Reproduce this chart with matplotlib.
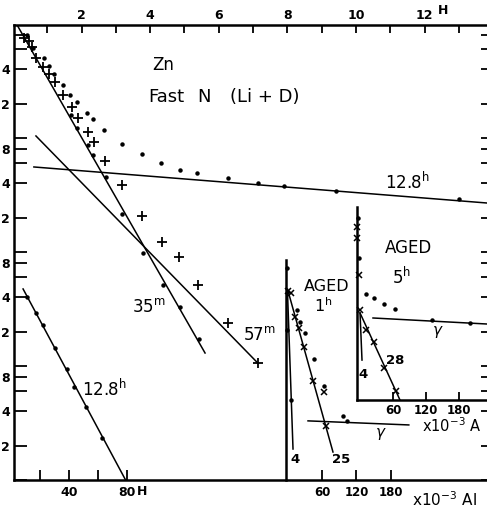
import matplotlib
matplotlib.use('Agg')
import matplotlib.pyplot as plt
from matplotlib.ticker import FixedLocator, NullLocator

# --- Zn, fast neutrons (Li + D): decay, upper time scale in hours ---
t_total = [0.41, 0.58, 0.90, 1.05, 1.20, 1.46, 1.66, 1.87, 2.16, 2.33, 2.65,
           3.18, 3.76, 4.31, 4.87, 5.36, 6.27, 7.14, 7.90, 9.42, 13.0]
a_total = [8010, 6160, 5030, 4280, 3640, 2920, 2380, 2070, 1660, 1470, 1175,
           885, 724, 604, 524, 493, 445, 403, 379, 343, 292]

t_plus = [0.32, 0.47, 0.55, 0.67, 0.87, 1.05, 1.22, 1.46, 1.72, 1.90, 2.19,
          2.36, 2.68, 3.18, 3.76, 4.34, 4.84, 5.39, 6.27, 7.14]
a_plus = [7540, 7100, 6280, 5030, 4200, 3640, 3100, 2380, 1870, 1500, 1130,
          923, 629, 387, 207, 122, 90, 51, 23.8, 10.6]

t_diff = [1.69, 1.87, 2.19, 2.33, 2.71, 3.18, 3.79, 4.37, 4.87, 5.42]
a_diff = [1590, 1224, 868, 709, 455, 215, 98, 51, 33, 17.3]

# fitted straight lines (end points)
fit_128_t = [0.61, 13.82]
fit_128_a = [557, 269]
fit_35_t = [0.12, 5.60]
fit_35_a = [9800, 13.0]
fit_57_t = [0.67, 7.14]
fit_57_a = [1042, 10.6]

# long tail, lower time scale (H)
t_low = [10.9, 17.2, 22.1, 30.5, 38.8, 43.7, 52.1, 63.2]
a_low = [40.3, 29.2, 22.9, 14.4, 9.4, 6.5, 4.37, 2.33]
fit_low_t = [8.2, 79.3]
fit_low_a = [47.4, 1.0]

# --- absorption, aged 1 h (x10^-3 Al) ---
d1_x = [0.9, 6.1, 13.0, 20.0, 28.7, 44.3, 67.0, 63.5]
d1_x_a = [45.5, 43.7, 26.9, 21.5, 14.7, 7.4, 2.98, 5.9]
d1_dot = [0, 16.5, 21.7, 30.4, 0, 46.1, 6.1, 96.5, 103.5, 63.5]
d1_dot_a = [72, 31, 24.3, 19.5, 20.7, 11.5, 5.0, 3.64, 3.3, 6.7]
fit1_25_x = [0, 79.1]
fit1_25_a = [47.3, 1.76]
fit1_4_x = [0, 9.6]
fit1_4_a = [44.6, 1.87]
fit1_g_x = [35.7, 211]
fit1_g_a = [3.3, 3.04]

# --- absorption, aged 5 h ---
d5_x = [-5, -5, -2, 0, 10.9, 25.5, 43.6, 65.5]
d5_x_a = [33, 26.4, 12.5, 6.2, 4.11, 3.23, 1.91, 1.20]
d5_dot = [-4, -1.8, 10.9, 25.5, 43.6, 63.6, 131, 200]
d5_dot_a = [39.5, 17.6, 8.5, 7.85, 6.95, 6.3, 5.03, 4.74]
fit5_28_x = [0, 72.7]
fit5_28_a = [5.8, 1.0]
fit5_4_x = [0, 3.6]
fit5_4_a = [5.8, 2.24]
fit5_g_x = [23.6, 231]
fit5_g_a = [5.24, 4.64]

W, H = 487, 509


def frame(x0, y0, x1, y1):
    return [x0 / W, 1 - y1 / H, (x1 - x0) / W, (y1 - y0) / H]


LW = 1.1
SP = 1.8
dot = dict(ls='none', marker='o', ms=2.2, color='black', clip_on=False)
plus = dict(ls='none', marker='+', ms=7, mew=1.3, color='black', clip_on=False)
cross = dict(ls='none', marker='x', ms=4.5, mew=1.1, color='black', clip_on=False)
line = dict(color='black', lw=LW)

fig = plt.figure(figsize=(W / 100, H / 100), dpi=100)

ax = fig.add_axes(frame(14, 25, 487, 480))
ax_low = ax.twiny()
ax_r = ax.twinx()

ax.set_yscale('log')
ax.set_xlim(0.03, 13.82)
ax.set_ylim(1, 9800)
ax_r.set_yscale('log')
ax_r.set_ylim(1, 9800)
ax_low.set_xlim(1.9, 330)

# y ticks: 1, 2, 4, 6, 8 in every decade, only 2/4/8 labelled
yt, yl = [], []
for d in range(4):
    for m in (1, 2, 4, 6, 8):
        v = m * 10 ** d
        if v > 9800:
            continue
        yt.append(v)
        yl.append(str(m) if m in (2, 4, 8) and v < 8000 else '')
ax.yaxis.set_major_locator(FixedLocator(yt))
ax.yaxis.set_minor_locator(NullLocator())
ax.set_yticklabels(yl, fontweight='bold')
ax.tick_params(axis='y', direction='in', length=9, width=1.3, pad=3, labelsize=9)
ax_r.yaxis.set_major_locator(FixedLocator(yt))
ax_r.yaxis.set_minor_locator(NullLocator())
ax_r.tick_params(axis='y', direction='in', length=4, width=1.3, labelright=False)

ax.xaxis.tick_top()
ax.set_xticks(range(1, 14))
ax.set_xticklabels(['' if i % 2 else str(i) for i in range(1, 14)], fontweight='bold')
ax.tick_params(axis='x', direction='in', length=6, width=1.3, pad=2, labelsize=9)
ax.text(12.55, 1.0176, 'H', transform=ax.get_xaxis_transform(), ha='center',
        va='bottom', fontsize=9, fontweight='bold')

ax_low.xaxis.tick_bottom()
ax_low.set_xticks([20, 40, 60, 80])
ax_low.set_xticklabels(['', '40', '', '80'], fontweight='bold')
ax_low.tick_params(axis='x', direction='in', length=7, width=1.3, pad=4, labelsize=9)
ax_low.text(91, -0.012, 'H', transform=ax_low.get_xaxis_transform(), ha='center',
            va='top', fontsize=9, fontweight='bold')

for a in (ax, ax_low, ax_r):
    for s in a.spines.values():
        s.set_visible(False)
for s in ('left', 'top', 'bottom'):
    ax.spines[s].set_visible(True)
    ax.spines[s].set_linewidth(SP)

# main decay
ax.plot(t_total, a_total, **dot)
ax.plot(t_plus, a_plus, **plus)
ax.plot(t_diff, a_diff, **dot)
ax.plot(fit_128_t, fit_128_a, **line)
ax.plot(fit_35_t, fit_35_a, **line)
ax.plot(fit_57_t, fit_57_a, **line)

ax_low.plot(t_low, a_low, **dot)
ax_low.plot(fit_low_t, fit_low_a, **line)

ax.text(4.37, 4370, 'Zn', ha='center', va='center', fontsize=12)
ax.text(3.94, 2290, 'Fast', ha='left', va='center', fontsize=13)
ax.text(5.36, 2290, 'N', ha='left', va='center', fontsize=13)
ax.text(6.33, 2290, '(Li + D)', ha='left', va='center', fontsize=13)
ax.text(10.85, 411, r'12.8$^{\mathrm{h}}$', ha='left', va='center', fontsize=12)
ax.text(3.47, 33, r'35$^{\mathrm{m}}$', ha='left', va='center', fontsize=12)
ax.text(6.71, 18.7, r'57$^{\mathrm{m}}$', ha='left', va='center', fontsize=12)
ax_low.text(49.3, 6.2, r'12.8$^{\mathrm{h}}$', ha='left', va='center', fontsize=12)

# inset: aged 1 h
ax1 = fig.add_axes(frame(286, 260, 487, 480))
ax1.patch.set_visible(False)
ax1.set_yscale('log')
ax1.set_xlim(-2.6, 347)
ax1.set_ylim(1, 85)
for s in ('top', 'right', 'bottom'):
    ax1.spines[s].set_visible(False)
ax1.spines['left'].set_linewidth(SP)
ax1.tick_params(axis='y', which='both', left=False, labelleft=False)
ax1.set_xticks([60, 120, 180])
ax1.set_xticklabels(['60', '120', '180'], fontweight='bold')
ax1.tick_params(axis='x', direction='in', length=7, width=1.3, pad=4, labelsize=8.5)

ax1.plot(d1_dot, d1_dot_a, **dot)
ax1.plot(d1_x, d1_x_a, **cross)
ax1.plot(fit1_25_x, fit1_25_a, **line)
ax1.plot(fit1_4_x, fit1_4_a, **line)
ax1.plot(fit1_g_x, fit1_g_a, **line)
ax1.text(68.7, 49.8, 'AGED', ha='center', va='center', fontsize=11.5)
ax1.text(61.7, 33.5, r'1$^{\mathrm{h}}$', ha='center', va='center', fontsize=11.5)
ax1.text(162.6, 2.53, r'$\gamma$', ha='center', va='center', fontsize=11)
ax1.text(13, 1.5, '4', ha='center', va='center', fontsize=9.5, fontweight='bold')
ax1.text(93, 1.5, '25', ha='center', va='center', fontsize=9.5, fontweight='bold')
ax1.text(216.5, 0.668, r'x10$^{-3}$ Al', ha='left', va='center', fontsize=11,
         clip_on=False)

# inset: aged 5 h
ax5 = fig.add_axes(frame(357, 207, 487, 400))
ax5.patch.set_visible(False)
ax5.set_yscale('log')
ax5.set_xlim(-5.5, 231)
ax5.set_ylim(1, 49.3)
for s in ('top', 'right'):
    ax5.spines[s].set_visible(False)
ax5.spines['left'].set_linewidth(SP)
ax5.spines['bottom'].set_linewidth(SP)
ax5.tick_params(axis='y', which='both', left=False, labelleft=False)
ax5.set_xticks([60, 120, 180])
ax5.set_xticklabels(['60', '120', '180'], fontweight='bold')
ax5.tick_params(axis='x', direction='in', length=6, width=1.3, pad=3, labelsize=8.5)

ax5.plot(d5_dot, d5_dot_a, **dot)
ax5.plot(d5_x, d5_x_a, **cross)
ax5.plot(fit5_28_x, fit5_28_a, **line)
ax5.plot(fit5_4_x, fit5_4_a, **line)
ax5.plot(fit5_g_x, fit5_g_a, clip_on=False, **line)
ax5.text(87.3, 21.5, 'AGED', ha='center', va='center', fontsize=12)
ax5.text(76, 12.0, r'5$^{\mathrm{h}}$', ha='center', va='center', fontsize=12)
ax5.text(141.8, 3.95, r'$\gamma$', ha='center', va='center', fontsize=11)
ax5.text(5.5, 1.66, '4', ha='center', va='center', fontsize=9.5, fontweight='bold')
ax5.text(63.6, 2.2, '28', ha='center', va='center', fontsize=9.5, fontweight='bold')
ax5.text(112.7, 0.60, r'x10$^{-3}$ A', ha='left', va='center', fontsize=10.5,
         clip_on=False)

fig.savefig('out.png', dpi=100)
